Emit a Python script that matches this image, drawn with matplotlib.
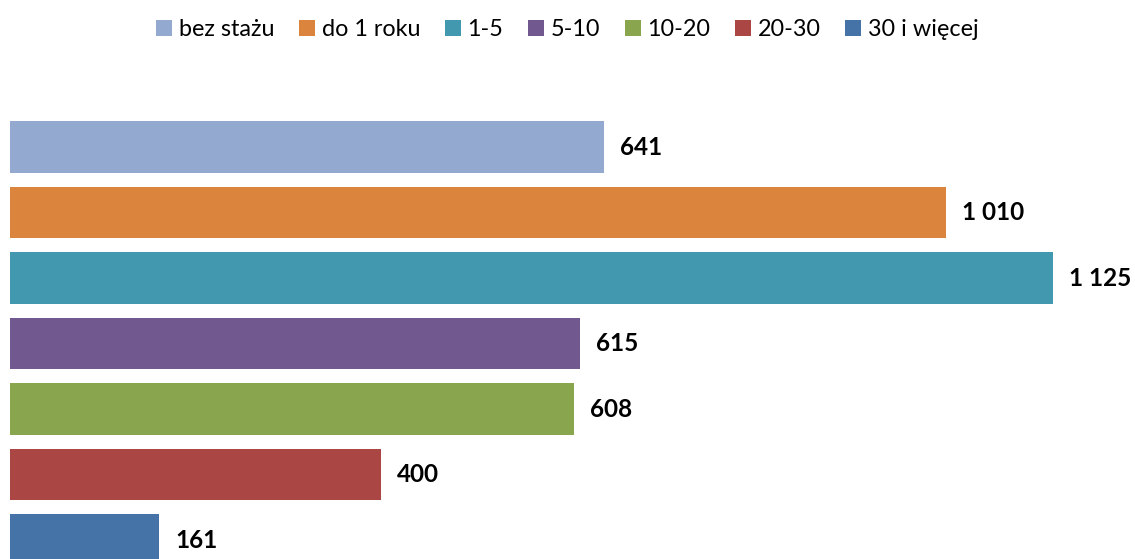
import matplotlib.pyplot as plt
from matplotlib.patches import Patch

# staż pracy - liczba osób
categories = ['bez stażu', 'do 1 roku', '1-5', '5-10', '10-20', '20-30', '30 i więcej']
values = [641, 1010, 1125, 615, 608, 400, 161]
value_labels = ['641', '1 010', '1 125', '615', '608', '400', '161']
colors = ['#93A9CF', '#DB843D', '#4198AF', '#71588F', '#89A54E', '#AA4643', '#4572A7']

plt.rcParams['font.family'] = ['Lato', 'DejaVu Sans']

W, H = 1135, 559
fig = plt.figure(figsize=(W / 100, H / 100), dpi=100)
# axes placed in pixels: x 10..1053, y 100..559 (bottom bar gets cut off like in the original)
ax = fig.add_axes([10 / W, 0, 1043 / W, 459 / H])
ax.set_xlim(0, 1125)
ax.set_ylim(6.29, -0.718)

ypos = list(range(len(categories)))
ax.barh(ypos, values, height=0.79, color=colors)

for y, v, lab in zip(ypos, values, value_labels):
    ax.annotate(lab, (v, y), xytext=(16, 0), textcoords='offset pixels',
                ha='left', va='center', fontsize=17.5, fontweight='bold',
                annotation_clip=False)

ax.axis('off')

handles = [Patch(facecolor=c, edgecolor='none') for c in colors]
fig.legend(handles, categories, loc='center', bbox_to_anchor=(0.5, 1 - 30 / H),
           ncol=7, frameon=False, fontsize=16.8, handlelength=0.68, handleheight=0.68,
           handletextpad=0.3, columnspacing=1.05, borderaxespad=0)

fig.savefig('out.png', dpi=100)
